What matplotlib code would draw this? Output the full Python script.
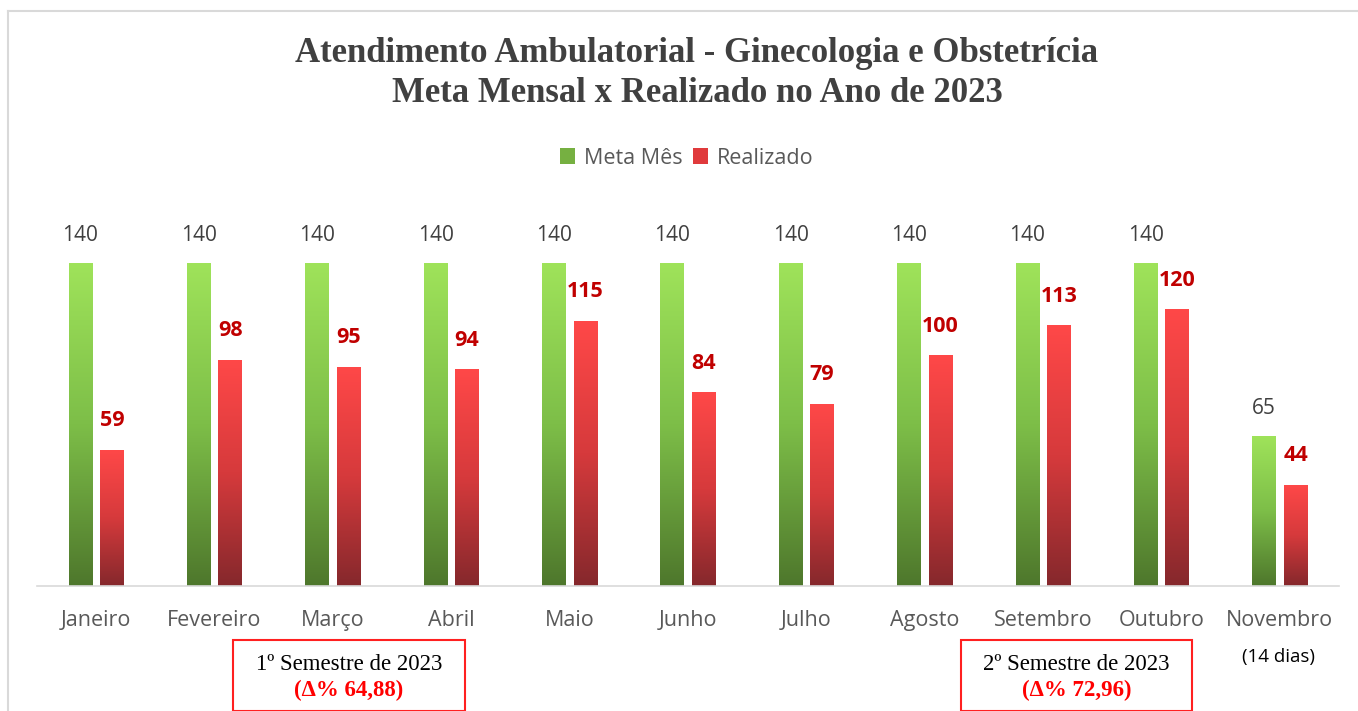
import matplotlib
matplotlib.use("Agg")
import matplotlib.pyplot as plt
import numpy as np
from matplotlib.colors import LinearSegmentedColormap
from matplotlib.lines import Line2D
from matplotlib.patches import Rectangle

months = ["Janeiro", "Fevereiro", "Março", "Abril", "Maio", "Junho",
          "Julho", "Agosto", "Setembro", "Outubro", "Novembro"]
meta = [140, 140, 140, 140, 140, 140, 140, 140, 140, 140, 65]
realizado = [59, 98, 95, 94, 115, 84, 79, 100, 113, 120, 44]

title = "Atendimento Ambulatorial - Ginecologia e Obstetrícia\nMeta Mensal x Realizado no Ano de 2023"
sem1 = ("1º Semestre de 2023", "(Δ% 64,88)")
sem2 = ("2º Semestre de 2023", "(Δ% 72,96)")

W, H = 1358, 711
fig = plt.figure(figsize=(W / 100, H / 100), dpi=100)
fig.patch.set_facecolor("white")

ax = fig.add_axes([37 / W, (H - 586) / H, 1302 / W, (586 - 217) / H])
ax.set_xlim(-0.5, 10.5)
ax.set_ylim(0, 160)

green_cmap = LinearSegmentedColormap.from_list("g", ["#4E772C", "#7DBE48", "#9FE35A"])
red_cmap = LinearSegmentedColormap.from_list("r", ["#85282C", "#D63A3C", "#FF4848"])

bw = 0.2
off = 0.133
x = np.arange(len(months))
grad = np.linspace(0, 1, 256).reshape(-1, 1)


def gradient_bars(xs, vals, cmap):
    bars = ax.bar(xs, vals, width=bw, color="none", edgecolor="none")
    for b in bars:
        x0, y0 = b.get_x(), b.get_y()
        w, h = b.get_width(), b.get_height()
        im = ax.imshow(grad, cmap=cmap, origin="lower", aspect="auto",
                       extent=[x0, x0 + w, y0, y0 + h], zorder=2)
        im.set_clip_path(b)
    return bars


gradient_bars(x - off, meta, green_cmap)
gradient_bars(x + off, realizado, red_cmap)
ax.set_xlim(-0.5, 10.5)
ax.set_ylim(0, 160)

lab_font = "Open Sans"
for xi, v in zip(x, meta):
    ax.annotate(str(v), (xi - off, v), xytext=(0, 28), textcoords="offset pixels",
                ha="center", va="center", fontsize=15, color="#404040", family=lab_font)
for xi, v in zip(x, realizado):
    ax.annotate(str(v), (xi + off, v), xytext=(0, 29), textcoords="offset pixels",
                ha="center", va="center", fontsize=15.5, color="#C00000",
                fontweight="bold", family=lab_font)

ax.set_xticks(x)
ax.set_xticklabels(months, fontsize=15.5, color="#595959", family=lab_font)
ax.tick_params(axis="x", length=0, pad=17)
ax.set_yticks([])
for s in ["top", "left", "right"]:
    ax.spines[s].set_visible(False)
ax.spines["bottom"].set_color("#D9D9D9")
ax.spines["bottom"].set_linewidth(1.2)

# title
fig.text(697 / W, 1 - 53 / H, title.split("\n")[0], ha="center", va="center",
         fontsize=25, fontweight="bold", family="Liberation Serif", color="#404040")
fig.text(697 / W, 1 - 94 / H, title.split("\n")[1], ha="center", va="center",
         fontsize=25, fontweight="bold", family="Liberation Serif", color="#404040")

# legend
handles = [Rectangle((0, 0), 1, 1, facecolor="#76B041"),
           Rectangle((0, 0), 1, 1, facecolor="#E03A3C")]
fig.legend(handles, ["Meta Mês", "Realizado"], loc="center",
           bbox_to_anchor=(687 / W, 1 - 158 / H), ncol=2, frameon=False,
           prop={"family": lab_font, "size": 15.5}, handlelength=0.7,
           handleheight=0.7, handletextpad=0.4, columnspacing=0.5,
           labelcolor="#595959")

# (14 dias)
fig.text(1278 / W, 1 - 657 / H, "(14 dias)", ha="center", va="center",
         fontsize=13.5, color="black", family=lab_font)

# semester boxes
for (x0, x1), (l1, l2) in [((233, 465), sem1), ((961, 1192), sem2)]:
    fig.patches.append(Rectangle((x0 / W, 0), (x1 - x0) / W, (H - 640) / H,
                                 transform=fig.transFigure, facecolor="none",
                                 edgecolor="#FF2020", linewidth=1.5))
    cx = (x0 + x1) / 2 / W
    fig.text(cx, 1 - 665 / H, l1, ha="center", va="center", fontsize=16.5,
             family="Liberation Serif", color="black")
    fig.text(cx, 1 - 690 / H, l2, ha="center", va="center", fontsize=16.5,
             family="Liberation Serif", color="#FF0000", fontweight="bold")

# outer border
fig.add_artist(Line2D([8 / W, 8 / W], [0, 1 - 11 / H], transform=fig.transFigure,
                      color="#D9D9D9", linewidth=1.5))
fig.add_artist(Line2D([8 / W, 1], [1 - 11 / H, 1 - 11 / H], transform=fig.transFigure,
                      color="#D9D9D9", linewidth=1.5))

fig.savefig("out.png", dpi=100)
